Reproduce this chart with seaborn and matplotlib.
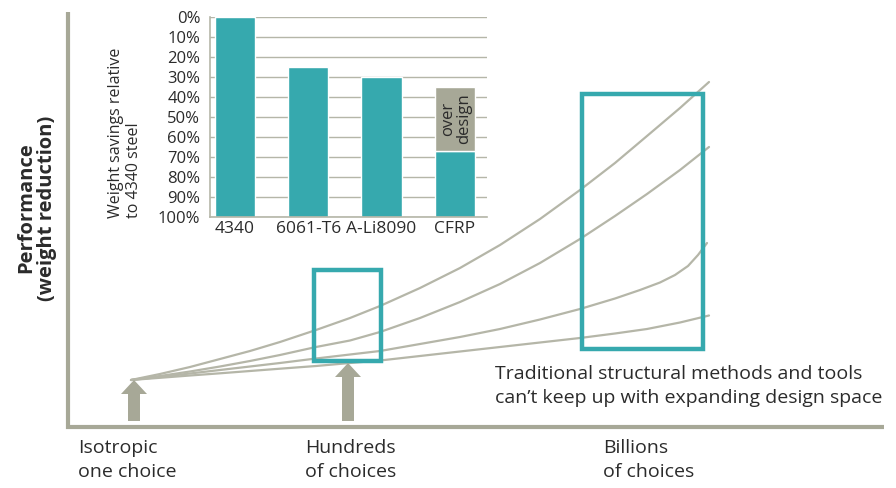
import numpy as np
import pandas as pd
import seaborn as sns
import matplotlib.pyplot as plt
from matplotlib.patches import Rectangle, FancyArrow

# inset bar chart data
materials = ["4340", "6061-T6", "A-Li8090", "CFRP"]
savings = [0, 25, 30, 67]          # weight savings relative to 4340 steel (%)
overdesign_top = 35                # CFRP over-design band reaches up to 35%
pct_ticks = [0, 10, 20, 30, 40, 50, 60, 70, 80, 90, 100]

# design-space curves (x, y in canvas pixels)
grid_x = [131, 160, 190, 220, 250, 280, 316, 350, 380, 420, 460, 500, 540, 580,
          615, 647, 680, 709]
curve_1 = [380, 374, 367, 359, 351, 342, 330, 318, 306, 288, 268, 245, 219, 190,
           163, 136, 108, 82]
curve_2 = [380, 376, 371.5, 366.5, 361, 355, 347, 340.5, 332, 318, 302, 284, 263,
           239, 216, 194, 170, 147]
curve_4 = [380, 377.8, 375.5, 373.3, 371, 368.7, 366, 363, 360.5, 356, 351.5, 347,
           342.5, 338, 333.5, 329, 322.5, 315.5]
curve3_x = [131, 160, 190, 220, 250, 280, 316, 350, 380, 420, 460, 500, 540, 580,
            615, 640, 660, 675, 688, 698, 707]
curve_3 = [380, 377, 373.5, 370, 366.5, 363, 358.5, 354.5, 351, 344, 337, 329,
           319.5, 309, 298.5, 290, 282.5, 275, 266, 255, 243]

stage_labels = ["Isotropic\none choice", "Hundreds\nof choices", "Billions\nof choices"]
note = "Traditional structural methods and tools\ncan\u2019t keep up with expanding design space"

teal = "#36A9AE"
olive = "#A7A897"
line_c = "#B5B6A8"
txt = "#2b2b2b"

sns.set_theme(style="white")
plt.rcParams["font.family"] = ["Open Sans", "DejaVu Sans"]

fig = plt.figure(figsize=(8.96, 4.88), dpi=100)
ax = fig.add_axes([0, 0, 1, 1])

# main axes frame
ax.plot([68, 68, 884], [12, 427, 427], color=olive, lw=3, solid_capstyle="butt",
        solid_joinstyle="miter")

# curves
curves = pd.concat([
    pd.DataFrame({"x": grid_x, "y": curve_1, "c": 1}),
    pd.DataFrame({"x": grid_x, "y": curve_2, "c": 2}),
    pd.DataFrame({"x": curve3_x, "y": curve_3, "c": 3}),
    pd.DataFrame({"x": grid_x, "y": curve_4, "c": 4}),
])
sns.lineplot(data=curves, x="x", y="y", units="c", estimator=None, sort=False,
             color=line_c, lw=1.6, ax=ax, legend=False)
ax.set_xlim(0, 896)
ax.set_ylim(488, 0)
ax.axis("off")

# design-space boxes
ax.add_patch(Rectangle((314, 270), 67, 91, fill=False, ec=teal, lw=3.2, zorder=3))
ax.add_patch(Rectangle((582, 94), 121, 255, fill=False, ec=teal, lw=3.2, zorder=3))

# arrows
for x0, tip in [(134, 380), (348, 363)]:
    ax.add_patch(FancyArrow(x0, 421, 0, tip - 421, width=12, head_width=26,
                            head_length=14, length_includes_head=True,
                            color=olive, lw=0, zorder=3))

ax.text(37, 208, "Performance\n(weight reduction)", rotation=90, ha="center",
        va="center", fontsize=14.5, fontweight="bold", color=txt, linespacing=1.05)

for x0, lab in zip([78, 305, 603], stage_labels):
    ax.text(x0, 460, lab, ha="left", va="center", fontsize=14, color=txt,
            linespacing=1.4)
ax.text(495, 386, note, ha="left", va="center", fontsize=14, color=txt,
        linespacing=1.4)

ax.text(125, 218, "Weight savings relative\nto 4340 steel", rotation=90,
        ha="center", va="bottom", multialignment="left", fontsize=11.5,
        color=txt, linespacing=1.1)

# inset bar chart
ins = fig.add_axes([210 / 896, 1 - 217 / 488, 277 / 896, 200 / 488])
remaining = [100 - s for s in savings]
bars = pd.DataFrame({"material": materials, "remaining": remaining})
sns.barplot(data=bars, x="material", y="remaining", color=teal, saturation=1,
            width=0.55, ax=ins, zorder=2)
ins.bar(3, (100 - overdesign_top) - remaining[3], bottom=remaining[3], width=0.55,
        color=olive, zorder=2)
ins.text(3.02, (100 - overdesign_top + remaining[3]) / 2, "over\ndesign",
         rotation=90, ha="center", va="center", fontsize=12, color=txt,
         linespacing=0.95, zorder=3)
ins.set_ylim(0, 100)
ins.set_xlim(-0.34, 3.44)
ins.set_yticks([100 - p for p in pct_ticks])
ins.set_yticklabels([f"{p}%" for p in pct_ticks], fontsize=12, color=txt)
ins.tick_params(axis="y", length=0, pad=7)
ins.tick_params(axis="x", length=0, pad=3, labelsize=12.5, labelcolor=txt)
ins.set_xlabel("")
ins.set_ylabel("")
ins.yaxis.grid(True, color=line_c, lw=1)
ins.set_axisbelow(True)
for s in ["top", "right"]:
    ins.spines[s].set_visible(False)
for s in ["left", "bottom"]:
    ins.spines[s].set_color(line_c)
    ins.spines[s].set_linewidth(1.2)
ins.patch.set_alpha(0)

fig.savefig("out.png", dpi=100)
